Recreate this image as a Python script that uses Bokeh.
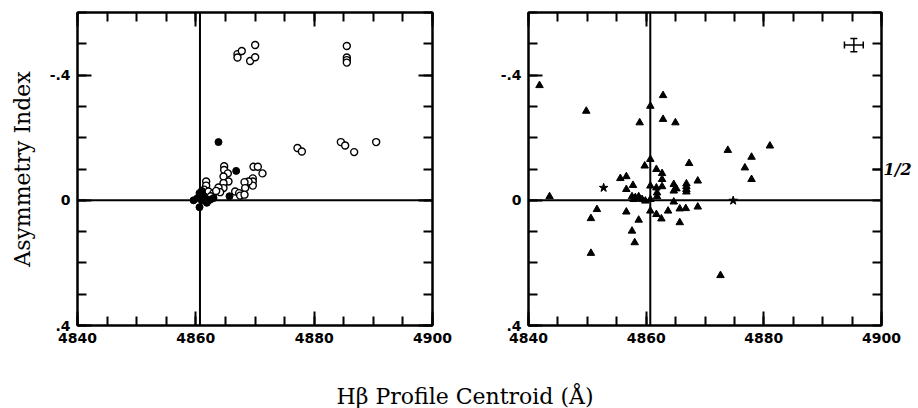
from bokeh.plotting import figure
from bokeh.models import (Range1d, FixedTicker, LinearAxis, Span, Whisker,
                          TeeHead, ColumnDataSource)
from bokeh.layouts import column, row
from bokeh.embed import file_html
from bokeh.resources import INLINE
from bokeh.core.properties import value

# ---------------- data ----------------
x_major = [4840, 4860, 4880, 4900]
x_minor = [4840, 4845, 4850, 4855, 4860, 4865, 4870, 4875, 4880, 4885, 4890, 4895, 4900]
y_major = [-0.4, 0.0, 0.4]
y_minor = [-0.6, -0.5, -0.4, -0.3, -0.2, -0.1, 0.0, 0.1, 0.2, 0.3, 0.4]
y_labels = {-0.4: "-.4", 0.0: "0", 0.4: ".4"}
x_labels = {4840: "4840", 4860: "4860", 4880: "4880", 4900: "4900"}
right_mark = [-0.1]
right_labels = {-0.1: "1/2"}

hbeta_rest = 4860.7
zero_asym = 0.0

# left panel: open circles
open_x = [4867.04, 4867.04, 4867.77, 4870.03, 4869.18, 4870.03, 4885.52, 4885.52, 4885.52, 4885.52,
          4877.18, 4877.92, 4884.51, 4885.24, 4886.76, 4890.48,
          4864.79, 4864.79, 4865.41, 4865.52, 4864.68, 4864.68, 4864.68, 4863.83, 4864.11,
          4869.75, 4870.48, 4871.27, 4869.63, 4869.63, 4869.63, 4868.90, 4868.23, 4868.34,
          4866.65, 4867.32, 4867.49, 4868.23,
          4861.75, 4861.75, 4861.41, 4862.14, 4862.99, 4862.54, 4863.44, 4861.01]
open_y = [-0.467, -0.456, -0.477, -0.496, -0.445, -0.457, -0.493, -0.456, -0.448, -0.440,
          -0.167, -0.156, -0.186, -0.175, -0.154, -0.186,
          -0.109, -0.097, -0.086, -0.060, -0.076, -0.055, -0.039, -0.041, -0.026,
          -0.107, -0.107, -0.086, -0.070, -0.060, -0.047, -0.060, -0.058, -0.039,
          -0.028, -0.023, -0.015, -0.018,
          -0.060, -0.047, -0.034, -0.028, -0.023, -0.013, -0.030, -0.018]

# left panel: filled circles
fill_x = [4863.83, 4866.82, 4865.69, 4859.61, 4860.62, 4860.28, 4861.01, 4861.58, 4861.97,
          4860.62, 4861.41, 4862.42, 4861.01, 4862.99, 4861.86]
fill_y = [-0.186, -0.094, -0.013, 0.000, 0.022, -0.007, 0.001, -0.007, 0.003,
          -0.023, -0.013, -0.002, -0.030, -0.007, 0.008]

# right panel: triangles
tri_x = [4841.87, 4843.58, 4849.82, 4850.61, 4851.63, 4850.61, 4855.61, 4856.63, 4856.63, 4857.76,
         4857.59, 4858.16, 4858.90, 4858.73, 4859.30, 4856.63, 4857.59, 4858.05, 4858.73, 4859.75,
         4860.71, 4860.71, 4860.71, 4860.71, 4860.71, 4861.74, 4862.70, 4862.70, 4861.74, 4862.70,
         4861.85, 4861.85, 4862.87, 4862.87, 4864.97, 4861.74, 4862.59, 4863.72, 4864.69, 4865.14,
         4864.69, 4864.69, 4865.71, 4866.73, 4865.71, 4866.84, 4866.84, 4866.84, 4866.84, 4867.30,
         4868.77, 4868.77, 4872.63, 4873.88, 4876.78, 4877.91, 4877.91, 4881.03, 4859.86, 4857.88]
tri_y = [-0.367, -0.012, -0.285, 0.058, 0.029, 0.169, -0.070, -0.076, -0.035, -0.048,
         -0.012, -0.009, -0.248, -0.012, -0.003, 0.037, 0.098, 0.135, 0.063, -0.110,
         -0.301, -0.131, -0.046, -0.003, 0.034, -0.099, -0.086, -0.067, -0.040, -0.044,
         -0.024, -0.012, -0.335, -0.259, -0.248, 0.045, 0.059, 0.034, -0.051, -0.037,
         -0.030, 0.005, 0.027, 0.026, 0.071, -0.053, -0.044, -0.035, -0.027, -0.118,
         -0.062, 0.021, 0.240, -0.160, -0.104, -0.138, -0.067, -0.174, 0.002, -0.003]

# right panel: stars
star_x = [4852.77, 4874.79]
star_y = [-0.040, 0.001]

# typical error bar
err_x = [4895.3]
err_y = [-0.496]
err_dx = [1.6]
err_dy = [0.021]

TICK_FONT = "DejaVu Sans"
SERIF = "DejaVu Serif"


def style_axis(ax, labels=True):
    ax.axis_line_width = 2
    ax.axis_line_color = "black"
    ax.major_tick_line_width = 2
    ax.minor_tick_line_width = 2
    ax.major_tick_line_color = "black"
    ax.minor_tick_line_color = "black"
    ax.major_tick_in = 14
    ax.major_tick_out = 0
    ax.minor_tick_in = 9
    ax.minor_tick_out = 0
    if labels:
        ax.major_label_text_font = TICK_FONT
        ax.major_label_text_font_style = "bold"
        ax.major_label_text_font_size = "14px"
        ax.major_label_text_color = "black"
        ax.major_label_standoff = 7
    else:
        ax.major_label_text_color = None
        ax.major_label_text_font_size = "1px"
        ax.major_label_standoff = 0


def make_panel(border_left, border_right, border_top, frame_w, ylabel=None, right_ticker=None):
    p = figure(frame_width=frame_w, frame_height=313,
               x_range=Range1d(4840, 4900), y_range=Range1d(0.4, -0.6),
               output_backend="svg", toolbar_location=None,
               min_border_left=border_left, min_border_right=border_right,
               min_border_top=border_top, min_border_bottom=360 - 313 - border_top)
    p.grid.visible = False
    p.outline_line_color = "black"
    p.outline_line_width = 2
    p.background_fill_color = "white"
    p.border_fill_color = "white"

    xt = FixedTicker(ticks=x_major, minor_ticks=x_minor)
    yt = FixedTicker(ticks=y_major, minor_ticks=y_minor)

    for ax in p.xaxis:
        ax.ticker = xt
        ax.major_label_overrides = x_labels
        style_axis(ax)
    for ax in p.yaxis:
        ax.ticker = yt
        ax.major_label_overrides = y_labels
        style_axis(ax)
        if ylabel:
            ax.axis_label = ylabel
            ax.axis_label_text_font = SERIF
            ax.axis_label_text_font_style = "normal"
            ax.axis_label_text_font_size = "22px"
            ax.axis_label_text_color = "black"
            ax.axis_label_standoff = 12

    top = LinearAxis(ticker=xt)
    style_axis(top, labels=False)
    p.add_layout(top, "above")

    if right_ticker is None:
        right = LinearAxis(ticker=yt)
        style_axis(right, labels=False)
    else:
        right = LinearAxis(ticker=FixedTicker(ticks=right_ticker, minor_ticks=y_minor),
                           major_label_overrides=right_labels)
        style_axis(right)
        right.major_tick_in = 9
        right.major_label_text_font = SERIF
        right.major_label_text_font_style = "bold italic"
        right.major_label_text_font_size = "16px"
        right.major_label_standoff = 2
    p.add_layout(right, "right")

    p.add_layout(Span(location=zero_asym, dimension="width", line_color="black", line_width=2))
    p.add_layout(Span(location=hbeta_rest, dimension="height", line_color="black", line_width=2))
    return p


# left panel
p1 = make_panel(77, 20, 10, 355, ylabel="Asymmetry Index")
p1.scatter(open_x, open_y, marker="circle", size=7, fill_color="white",
           line_color="black", line_width=1.4)
p1.scatter(fill_x, fill_y, marker="circle", size=7, fill_color="black",
           line_color="black", line_width=1)

# right panel
p2 = make_panel(76, 37, 12, 353, right_ticker=right_mark)
p2.scatter(tri_x, tri_y, marker="triangle", size=7.5, fill_color="black",
           line_color="black", line_width=1)
p2.scatter(star_x, star_y, marker="star", size=9, fill_color="black",
           line_color="black", line_width=1)

esrc = ColumnDataSource(dict(
    x=err_x, y=err_y,
    xl=[a - b for a, b in zip(err_x, err_dx)], xu=[a + b for a, b in zip(err_x, err_dx)],
    yl=[a - b for a, b in zip(err_y, err_dy)], yu=[a + b for a, b in zip(err_y, err_dy)]))
p2.add_layout(Whisker(source=esrc, base="y", lower="xl", upper="xu", dimension="width",
                      line_color="black", line_width=1.5,
                      lower_head=TeeHead(size=7, line_width=1.5, line_color="black"),
                      upper_head=TeeHead(size=7, line_width=1.5, line_color="black")))
p2.add_layout(Whisker(source=esrc, base="x", lower="yl", upper="yu", dimension="height",
                      line_color="black", line_width=1.5,
                      lower_head=TeeHead(size=7, line_width=1.5, line_color="black"),
                      upper_head=TeeHead(size=7, line_width=1.5, line_color="black")))

# shared x-axis title
p3 = figure(width=918, height=48, x_range=Range1d(0, 1), y_range=Range1d(0, 1),
            output_backend="svg", toolbar_location=None,
            min_border=0, min_border_left=0, min_border_right=0,
            min_border_top=0, min_border_bottom=0)
p3.axis.visible = False
p3.grid.visible = False
p3.outline_line_color = None
p3.text(x=[0.506], y=[0.24], text=["Hβ Profile Centroid (Å)"],
        text_font=value(SERIF), text_font_size="22px", text_align="center",
        text_baseline="middle", text_color="black")

layout = column(row(p1, p2), p3)
open("out.html", "w").write(file_html(layout, INLINE))
